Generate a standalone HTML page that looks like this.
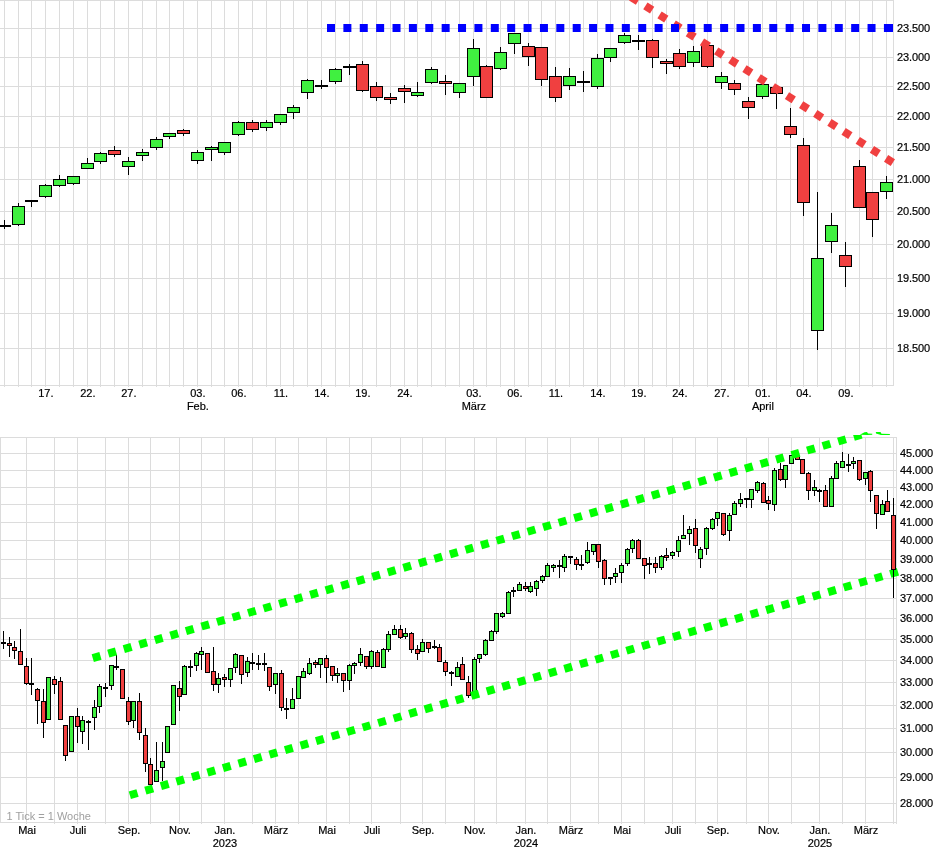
<!DOCTYPE html>
<html><head><meta charset="utf-8"><title>Chart</title>
<style>html,body{margin:0;padding:0;background:#fff;}svg{display:block;}</style>
</head><body><svg width="941" height="856" viewBox="0 0 941 856"><path d="M0 0.5H894M0 385.5H894M0 348.5H894M0 313.5H894M0 278.5H894M0 244.5H894M0 211.5H894M0 179.5H894M0 147.5H894M0 116.5H894M0 86.5H894M0 57.5H894M0 28.5H894M4.5 0V387M18.5 0V387M31.5 0V387M45.5 0V387M59.5 0V387M73.5 0V387M87.5 0V387M100.5 0V387M114.5 0V387M128.5 0V387M142.5 0V387M156.5 0V387M169.5 0V387M183.5 0V387M197.5 0V387M211.5 0V387M224.5 0V387M238.5 0V387M252.5 0V387M266.5 0V387M280.5 0V387M293.5 0V387M307.5 0V387M321.5 0V387M335.5 0V387M349.5 0V387M362.5 0V387M376.5 0V387M390.5 0V387M404.5 0V387M417.5 0V387M431.5 0V387M445.5 0V387M459.5 0V387M473.5 0V387M486.5 0V387M500.5 0V387M514.5 0V387M528.5 0V387M541.5 0V387M555.5 0V387M569.5 0V387M583.5 0V387M597.5 0V387M610.5 0V387M624.5 0V387M638.5 0V387M652.5 0V387M666.5 0V387M679.5 0V387M693.5 0V387M707.5 0V387M721.5 0V387M734.5 0V387M748.5 0V387M762.5 0V387M776.5 0V387M790.5 0V387M803.5 0V387M817.5 0V387M831.5 0V387M845.5 0V387M859.5 0V387M872.5 0V387M886.5 0V387M893.5 0V386M0 803.5H897M0 777.5H897M0 752.5H897M0 728.5H897M0 705.5H897M0 682.5H897M0 660.5H897M0 639.5H897M0 618.5H897M0 598.5H897M0 578.5H897M0 559.5H897M0 540.5H897M0 522.5H897M0 504.5H897M0 487.5H897M0 470.5H897M0 453.5H897M0 437.5H897M0 822.5H897M0.5 437V823M26.5 437V824M54.5 437V824M77.5 437V824M105.5 437V824M128.5 437V824M150.5 437V824M179.5 437V824M201.5 437V824M224.5 437V824M252.5 437V824M275.5 437V824M298.5 437V824M326.5 437V824M349.5 437V824M371.5 437V824M400.5 437V824M422.5 437V824M445.5 437V824M474.5 437V824M496.5 437V824M525.5 437V824M547.5 437V824M570.5 437V824M598.5 437V824M621.5 437V824M644.5 437V824M672.5 437V824M695.5 437V824M717.5 437V824M746.5 437V824M768.5 437V824M791.5 437V824M819.5 437V824M842.5 437V824M865.5 437V824M893.5 437V824M896.5 437V824" stroke="#dcdcdc" stroke-width="1" fill="none" shape-rendering="crispEdges"/><g shape-rendering="crispEdges"><rect x="4" y="220" width="1" height="9" fill="#000"/><rect x="-2" y="225" width="13" height="2" fill="#000"/><rect x="18" y="203" width="1" height="23" fill="#000"/><rect x="12" y="206" width="13" height="19" fill="#000"/><rect x="13" y="207" width="11" height="17" fill="#40f040"/><rect x="31" y="200" width="1" height="7" fill="#000"/><rect x="25" y="200" width="13" height="2" fill="#000"/><rect x="45" y="184" width="1" height="14" fill="#000"/><rect x="39" y="185" width="13" height="12" fill="#000"/><rect x="40" y="186" width="11" height="10" fill="#40f040"/><rect x="59" y="175" width="1" height="12" fill="#000"/><rect x="53" y="179" width="13" height="7" fill="#000"/><rect x="54" y="180" width="11" height="5" fill="#40f040"/><rect x="73" y="176" width="1" height="9" fill="#000"/><rect x="67" y="176" width="13" height="8" fill="#000"/><rect x="68" y="177" width="11" height="6" fill="#40f040"/><rect x="87" y="158" width="1" height="11" fill="#000"/><rect x="81" y="163" width="13" height="6" fill="#000"/><rect x="82" y="164" width="11" height="4" fill="#40f040"/><rect x="100" y="152" width="1" height="12" fill="#000"/><rect x="94" y="153" width="13" height="9" fill="#000"/><rect x="95" y="154" width="11" height="7" fill="#40f040"/><rect x="114" y="146" width="1" height="11" fill="#000"/><rect x="108" y="150" width="13" height="5" fill="#000"/><rect x="109" y="151" width="11" height="3" fill="#f04040"/><rect x="128" y="157" width="1" height="18" fill="#000"/><rect x="122" y="161" width="13" height="6" fill="#000"/><rect x="123" y="162" width="11" height="4" fill="#40f040"/><rect x="142" y="149" width="1" height="12" fill="#000"/><rect x="136" y="152" width="13" height="4" fill="#000"/><rect x="137" y="153" width="11" height="2" fill="#40f040"/><rect x="156" y="137" width="1" height="13" fill="#000"/><rect x="150" y="139" width="13" height="9" fill="#000"/><rect x="151" y="140" width="11" height="7" fill="#40f040"/><rect x="169" y="133" width="1" height="6" fill="#000"/><rect x="163" y="133" width="13" height="4" fill="#000"/><rect x="164" y="134" width="11" height="2" fill="#40f040"/><rect x="183" y="129" width="1" height="7" fill="#000"/><rect x="177" y="130" width="13" height="4" fill="#000"/><rect x="178" y="131" width="11" height="2" fill="#f04040"/><rect x="197" y="150" width="1" height="14" fill="#000"/><rect x="191" y="152" width="13" height="9" fill="#000"/><rect x="192" y="153" width="11" height="7" fill="#40f040"/><rect x="211" y="146" width="1" height="15" fill="#000"/><rect x="205" y="147" width="13" height="3" fill="#000"/><rect x="206" y="148" width="11" height="1" fill="#40f040"/><rect x="224" y="142" width="1" height="13" fill="#000"/><rect x="218" y="142" width="13" height="11" fill="#000"/><rect x="219" y="143" width="11" height="9" fill="#40f040"/><rect x="238" y="121" width="1" height="15" fill="#000"/><rect x="232" y="122" width="13" height="13" fill="#000"/><rect x="233" y="123" width="11" height="11" fill="#40f040"/><rect x="252" y="120" width="1" height="12" fill="#000"/><rect x="246" y="122" width="13" height="8" fill="#000"/><rect x="247" y="123" width="11" height="6" fill="#f04040"/><rect x="266" y="120" width="1" height="11" fill="#000"/><rect x="260" y="122" width="13" height="6" fill="#000"/><rect x="261" y="123" width="11" height="4" fill="#40f040"/><rect x="280" y="114" width="1" height="11" fill="#000"/><rect x="274" y="114" width="13" height="9" fill="#000"/><rect x="275" y="115" width="11" height="7" fill="#40f040"/><rect x="293" y="105" width="1" height="14" fill="#000"/><rect x="287" y="107" width="13" height="6" fill="#000"/><rect x="288" y="108" width="11" height="4" fill="#40f040"/><rect x="307" y="79" width="1" height="20" fill="#000"/><rect x="301" y="80" width="13" height="13" fill="#000"/><rect x="302" y="81" width="11" height="11" fill="#40f040"/><rect x="321" y="80" width="1" height="9" fill="#000"/><rect x="315" y="85" width="13" height="2" fill="#000"/><rect x="335" y="68" width="1" height="16" fill="#000"/><rect x="329" y="69" width="13" height="13" fill="#000"/><rect x="330" y="70" width="11" height="11" fill="#40f040"/><rect x="349" y="64" width="1" height="11" fill="#000"/><rect x="343" y="66" width="13" height="2" fill="#000"/><rect x="362" y="61" width="1" height="31" fill="#000"/><rect x="356" y="64" width="13" height="27" fill="#000"/><rect x="357" y="65" width="11" height="25" fill="#f04040"/><rect x="376" y="82" width="1" height="19" fill="#000"/><rect x="370" y="86" width="13" height="12" fill="#000"/><rect x="371" y="87" width="11" height="10" fill="#f04040"/><rect x="390" y="93" width="1" height="11" fill="#000"/><rect x="384" y="97" width="13" height="3" fill="#000"/><rect x="385" y="98" width="11" height="1" fill="#f04040"/><rect x="404" y="85" width="1" height="18" fill="#000"/><rect x="398" y="88" width="13" height="4" fill="#000"/><rect x="399" y="89" width="11" height="2" fill="#f04040"/><rect x="417" y="82" width="1" height="15" fill="#000"/><rect x="411" y="92" width="13" height="4" fill="#000"/><rect x="412" y="93" width="11" height="2" fill="#40f040"/><rect x="431" y="67" width="1" height="17" fill="#000"/><rect x="425" y="69" width="13" height="14" fill="#000"/><rect x="426" y="70" width="11" height="12" fill="#40f040"/><rect x="445" y="75" width="1" height="20" fill="#000"/><rect x="439" y="81" width="13" height="3" fill="#000"/><rect x="440" y="82" width="11" height="1" fill="#f04040"/><rect x="459" y="83" width="1" height="15" fill="#000"/><rect x="453" y="83" width="13" height="10" fill="#000"/><rect x="454" y="84" width="11" height="8" fill="#40f040"/><rect x="473" y="39" width="1" height="47" fill="#000"/><rect x="467" y="48" width="13" height="29" fill="#000"/><rect x="468" y="49" width="11" height="27" fill="#40f040"/><rect x="486" y="65" width="1" height="33" fill="#000"/><rect x="480" y="66" width="13" height="32" fill="#000"/><rect x="481" y="67" width="11" height="30" fill="#f04040"/><rect x="500" y="47" width="1" height="23" fill="#000"/><rect x="494" y="52" width="13" height="17" fill="#000"/><rect x="495" y="53" width="11" height="15" fill="#40f040"/><rect x="514" y="33" width="1" height="21" fill="#000"/><rect x="508" y="33" width="13" height="11" fill="#000"/><rect x="509" y="34" width="11" height="9" fill="#40f040"/><rect x="528" y="43" width="1" height="23" fill="#000"/><rect x="522" y="46" width="13" height="11" fill="#000"/><rect x="523" y="47" width="11" height="9" fill="#f04040"/><rect x="541" y="48" width="1" height="38" fill="#000"/><rect x="535" y="47" width="13" height="33" fill="#000"/><rect x="536" y="48" width="11" height="31" fill="#f04040"/><rect x="555" y="67" width="1" height="35" fill="#000"/><rect x="549" y="76" width="13" height="22" fill="#000"/><rect x="550" y="77" width="11" height="20" fill="#f04040"/><rect x="569" y="68" width="1" height="22" fill="#000"/><rect x="563" y="76" width="13" height="10" fill="#000"/><rect x="564" y="77" width="11" height="8" fill="#40f040"/><rect x="583" y="71" width="1" height="21" fill="#000"/><rect x="577" y="81" width="13" height="2" fill="#000"/><rect x="597" y="54" width="1" height="35" fill="#000"/><rect x="591" y="58" width="13" height="29" fill="#000"/><rect x="592" y="59" width="11" height="27" fill="#40f040"/><rect x="610" y="49" width="1" height="13" fill="#000"/><rect x="604" y="48" width="13" height="10" fill="#000"/><rect x="605" y="49" width="11" height="8" fill="#40f040"/><rect x="624" y="33" width="1" height="11" fill="#000"/><rect x="618" y="35" width="13" height="8" fill="#000"/><rect x="619" y="36" width="11" height="6" fill="#40f040"/><rect x="638" y="35" width="1" height="15" fill="#000"/><rect x="632" y="40" width="13" height="2" fill="#000"/><rect x="652" y="39" width="1" height="29" fill="#000"/><rect x="646" y="40" width="13" height="18" fill="#000"/><rect x="647" y="41" width="11" height="16" fill="#f04040"/><rect x="666" y="59" width="1" height="15" fill="#000"/><rect x="660" y="61" width="13" height="3" fill="#000"/><rect x="661" y="62" width="11" height="1" fill="#f04040"/><rect x="679" y="49" width="1" height="20" fill="#000"/><rect x="673" y="53" width="13" height="14" fill="#000"/><rect x="674" y="54" width="11" height="12" fill="#f04040"/><rect x="693" y="46" width="1" height="21" fill="#000"/><rect x="687" y="51" width="13" height="12" fill="#000"/><rect x="688" y="52" width="11" height="10" fill="#40f040"/><rect x="707" y="44" width="1" height="24" fill="#000"/><rect x="701" y="45" width="13" height="22" fill="#000"/><rect x="702" y="46" width="11" height="20" fill="#f04040"/><rect x="721" y="72" width="1" height="17" fill="#000"/><rect x="715" y="76" width="13" height="7" fill="#000"/><rect x="716" y="77" width="11" height="5" fill="#40f040"/><rect x="734" y="80" width="1" height="15" fill="#000"/><rect x="728" y="83" width="13" height="7" fill="#000"/><rect x="729" y="84" width="11" height="5" fill="#f04040"/><rect x="748" y="97" width="1" height="22" fill="#000"/><rect x="742" y="101" width="13" height="7" fill="#000"/><rect x="743" y="102" width="11" height="5" fill="#f04040"/><rect x="762" y="84" width="1" height="15" fill="#000"/><rect x="756" y="84" width="13" height="13" fill="#000"/><rect x="757" y="85" width="11" height="11" fill="#40f040"/><rect x="776" y="85" width="1" height="24" fill="#000"/><rect x="770" y="87" width="13" height="7" fill="#000"/><rect x="771" y="88" width="11" height="5" fill="#f04040"/><rect x="790" y="108" width="1" height="30" fill="#000"/><rect x="784" y="126" width="13" height="9" fill="#000"/><rect x="785" y="127" width="11" height="7" fill="#f04040"/><rect x="803" y="138" width="1" height="78" fill="#000"/><rect x="797" y="145" width="13" height="58" fill="#000"/><rect x="798" y="146" width="11" height="56" fill="#f04040"/><rect x="817" y="192" width="1" height="158" fill="#000"/><rect x="811" y="258" width="13" height="73" fill="#000"/><rect x="812" y="259" width="11" height="71" fill="#40f040"/><rect x="831" y="213" width="1" height="40" fill="#000"/><rect x="825" y="225" width="13" height="17" fill="#000"/><rect x="826" y="226" width="11" height="15" fill="#40f040"/><rect x="845" y="242" width="1" height="45" fill="#000"/><rect x="839" y="255" width="13" height="12" fill="#000"/><rect x="840" y="256" width="11" height="10" fill="#f04040"/><rect x="859" y="160" width="1" height="47" fill="#000"/><rect x="853" y="166" width="13" height="42" fill="#000"/><rect x="854" y="167" width="11" height="40" fill="#f04040"/><rect x="872" y="192" width="1" height="45" fill="#000"/><rect x="866" y="192" width="13" height="28" fill="#000"/><rect x="867" y="193" width="11" height="26" fill="#f04040"/><rect x="886" y="176" width="1" height="23" fill="#000"/><rect x="880" y="182" width="13" height="10" fill="#000"/><rect x="881" y="183" width="11" height="8" fill="#40f040"/><rect x="3" y="631" width="1" height="18" fill="#000"/><rect x="1" y="642" width="5" height="2" fill="#000"/><rect x="9" y="637" width="1" height="20" fill="#000"/><rect x="7" y="643" width="5" height="3" fill="#000"/><rect x="8" y="644" width="3" height="1" fill="#f04040"/><rect x="14" y="641" width="1" height="18" fill="#000"/><rect x="12" y="647" width="5" height="4" fill="#000"/><rect x="13" y="648" width="3" height="2" fill="#f04040"/><rect x="20" y="629" width="1" height="36" fill="#000"/><rect x="18" y="651" width="5" height="14" fill="#000"/><rect x="19" y="652" width="3" height="12" fill="#f04040"/><rect x="26" y="658" width="1" height="27" fill="#000"/><rect x="24" y="666" width="5" height="18" fill="#000"/><rect x="25" y="667" width="3" height="16" fill="#f04040"/><rect x="31" y="658" width="1" height="37" fill="#000"/><rect x="29" y="683" width="5" height="2" fill="#000"/><rect x="37" y="688" width="1" height="36" fill="#000"/><rect x="35" y="689" width="5" height="12" fill="#000"/><rect x="36" y="690" width="3" height="10" fill="#f04040"/><rect x="43" y="689" width="1" height="49" fill="#000"/><rect x="41" y="701" width="5" height="22" fill="#000"/><rect x="42" y="702" width="3" height="20" fill="#f04040"/><rect x="48" y="677" width="1" height="43" fill="#000"/><rect x="46" y="677" width="5" height="43" fill="#000"/><rect x="47" y="678" width="3" height="41" fill="#40f040"/><rect x="54" y="676" width="1" height="18" fill="#000"/><rect x="52" y="679" width="5" height="6" fill="#000"/><rect x="53" y="680" width="3" height="4" fill="#f04040"/><rect x="60" y="677" width="1" height="43" fill="#000"/><rect x="58" y="681" width="5" height="39" fill="#000"/><rect x="59" y="682" width="3" height="37" fill="#f04040"/><rect x="65" y="725" width="1" height="36" fill="#000"/><rect x="63" y="725" width="5" height="31" fill="#000"/><rect x="64" y="726" width="3" height="29" fill="#f04040"/><rect x="71" y="716" width="1" height="35" fill="#000"/><rect x="69" y="716" width="5" height="36" fill="#000"/><rect x="70" y="717" width="3" height="34" fill="#40f040"/><rect x="77" y="708" width="1" height="35" fill="#000"/><rect x="75" y="716" width="5" height="11" fill="#000"/><rect x="76" y="717" width="3" height="9" fill="#f04040"/><rect x="82" y="716" width="1" height="28" fill="#000"/><rect x="80" y="720" width="5" height="12" fill="#000"/><rect x="81" y="721" width="3" height="10" fill="#40f040"/><rect x="88" y="720" width="1" height="30" fill="#000"/><rect x="86" y="721" width="5" height="2" fill="#000"/><rect x="94" y="700" width="1" height="30" fill="#000"/><rect x="92" y="707" width="5" height="11" fill="#000"/><rect x="93" y="708" width="3" height="9" fill="#40f040"/><rect x="99" y="684" width="1" height="29" fill="#000"/><rect x="97" y="686" width="5" height="21" fill="#000"/><rect x="98" y="687" width="3" height="19" fill="#40f040"/><rect x="105" y="683" width="1" height="14" fill="#000"/><rect x="103" y="687" width="5" height="2" fill="#000"/><rect x="111" y="666" width="1" height="24" fill="#000"/><rect x="109" y="665" width="5" height="21" fill="#000"/><rect x="110" y="666" width="3" height="19" fill="#40f040"/><rect x="116" y="655" width="1" height="15" fill="#000"/><rect x="114" y="666" width="5" height="2" fill="#000"/><rect x="122" y="670" width="1" height="28" fill="#000"/><rect x="120" y="669" width="5" height="30" fill="#000"/><rect x="121" y="670" width="3" height="28" fill="#f04040"/><rect x="128" y="697" width="1" height="28" fill="#000"/><rect x="126" y="701" width="5" height="21" fill="#000"/><rect x="127" y="702" width="3" height="19" fill="#f04040"/><rect x="133" y="701" width="1" height="27" fill="#000"/><rect x="131" y="701" width="5" height="20" fill="#000"/><rect x="132" y="702" width="3" height="18" fill="#40f040"/><rect x="139" y="693" width="1" height="47" fill="#000"/><rect x="137" y="701" width="5" height="32" fill="#000"/><rect x="138" y="702" width="3" height="30" fill="#f04040"/><rect x="145" y="728" width="1" height="44" fill="#000"/><rect x="143" y="735" width="5" height="29" fill="#000"/><rect x="144" y="736" width="3" height="27" fill="#f04040"/><rect x="150" y="758" width="1" height="27" fill="#000"/><rect x="148" y="764" width="5" height="21" fill="#000"/><rect x="149" y="765" width="3" height="19" fill="#f04040"/><rect x="156" y="742" width="1" height="39" fill="#000"/><rect x="154" y="770" width="5" height="12" fill="#000"/><rect x="155" y="771" width="3" height="10" fill="#40f040"/><rect x="162" y="742" width="1" height="39" fill="#000"/><rect x="160" y="761" width="5" height="7" fill="#000"/><rect x="161" y="762" width="3" height="5" fill="#40f040"/><rect x="167" y="727" width="1" height="25" fill="#000"/><rect x="165" y="726" width="5" height="27" fill="#000"/><rect x="166" y="727" width="3" height="25" fill="#40f040"/><rect x="173" y="685" width="1" height="40" fill="#000"/><rect x="171" y="685" width="5" height="40" fill="#000"/><rect x="172" y="686" width="3" height="38" fill="#40f040"/><rect x="179" y="681" width="1" height="30" fill="#000"/><rect x="177" y="688" width="5" height="9" fill="#000"/><rect x="178" y="689" width="3" height="7" fill="#f04040"/><rect x="184" y="665" width="1" height="29" fill="#000"/><rect x="182" y="666" width="5" height="29" fill="#000"/><rect x="183" y="667" width="3" height="27" fill="#40f040"/><rect x="190" y="660" width="1" height="17" fill="#000"/><rect x="188" y="666" width="5" height="2" fill="#000"/><rect x="196" y="652" width="1" height="19" fill="#000"/><rect x="194" y="653" width="5" height="13" fill="#000"/><rect x="195" y="654" width="3" height="11" fill="#40f040"/><rect x="201" y="647" width="1" height="23" fill="#000"/><rect x="199" y="651" width="5" height="4" fill="#000"/><rect x="200" y="652" width="3" height="2" fill="#40f040"/><rect x="207" y="654" width="1" height="19" fill="#000"/><rect x="205" y="653" width="5" height="20" fill="#000"/><rect x="206" y="654" width="3" height="18" fill="#f04040"/><rect x="213" y="647" width="1" height="44" fill="#000"/><rect x="211" y="671" width="5" height="14" fill="#000"/><rect x="212" y="672" width="3" height="12" fill="#f04040"/><rect x="218" y="673" width="1" height="20" fill="#000"/><rect x="216" y="678" width="5" height="7" fill="#000"/><rect x="217" y="679" width="3" height="5" fill="#40f040"/><rect x="224" y="674" width="1" height="13" fill="#000"/><rect x="222" y="677" width="5" height="3" fill="#000"/><rect x="223" y="678" width="3" height="1" fill="#f04040"/><rect x="230" y="668" width="1" height="19" fill="#000"/><rect x="228" y="668" width="5" height="12" fill="#000"/><rect x="229" y="669" width="3" height="10" fill="#40f040"/><rect x="235" y="653" width="1" height="20" fill="#000"/><rect x="233" y="654" width="5" height="14" fill="#000"/><rect x="234" y="655" width="3" height="12" fill="#40f040"/><rect x="241" y="656" width="1" height="28" fill="#000"/><rect x="239" y="655" width="5" height="20" fill="#000"/><rect x="240" y="656" width="3" height="18" fill="#f04040"/><rect x="247" y="657" width="1" height="20" fill="#000"/><rect x="245" y="661" width="5" height="12" fill="#000"/><rect x="246" y="662" width="3" height="10" fill="#40f040"/><rect x="252" y="653" width="1" height="17" fill="#000"/><rect x="250" y="662" width="5" height="2" fill="#000"/><rect x="258" y="655" width="1" height="15" fill="#000"/><rect x="256" y="663" width="5" height="2" fill="#000"/><rect x="264" y="653" width="1" height="18" fill="#000"/><rect x="262" y="663" width="5" height="2" fill="#000"/><rect x="269" y="668" width="1" height="23" fill="#000"/><rect x="267" y="667" width="5" height="20" fill="#000"/><rect x="268" y="668" width="3" height="18" fill="#f04040"/><rect x="275" y="673" width="1" height="21" fill="#000"/><rect x="273" y="673" width="5" height="12" fill="#000"/><rect x="274" y="674" width="3" height="10" fill="#40f040"/><rect x="281" y="670" width="1" height="41" fill="#000"/><rect x="279" y="673" width="5" height="35" fill="#000"/><rect x="280" y="674" width="3" height="33" fill="#f04040"/><rect x="286" y="698" width="1" height="21" fill="#000"/><rect x="284" y="708" width="5" height="2" fill="#000"/><rect x="292" y="688" width="1" height="21" fill="#000"/><rect x="290" y="699" width="5" height="10" fill="#000"/><rect x="291" y="700" width="3" height="8" fill="#40f040"/><rect x="298" y="676" width="1" height="22" fill="#000"/><rect x="296" y="676" width="5" height="23" fill="#000"/><rect x="297" y="677" width="3" height="21" fill="#40f040"/><rect x="303" y="668" width="1" height="9" fill="#000"/><rect x="301" y="671" width="5" height="7" fill="#000"/><rect x="302" y="672" width="3" height="5" fill="#40f040"/><rect x="309" y="658" width="1" height="17" fill="#000"/><rect x="307" y="663" width="5" height="11" fill="#000"/><rect x="308" y="664" width="3" height="9" fill="#40f040"/><rect x="315" y="660" width="1" height="8" fill="#000"/><rect x="313" y="662" width="5" height="3" fill="#000"/><rect x="314" y="663" width="3" height="1" fill="#f04040"/><rect x="320" y="659" width="1" height="19" fill="#000"/><rect x="318" y="658" width="5" height="7" fill="#000"/><rect x="319" y="659" width="3" height="5" fill="#40f040"/><rect x="326" y="655" width="1" height="28" fill="#000"/><rect x="324" y="658" width="5" height="10" fill="#000"/><rect x="325" y="659" width="3" height="8" fill="#f04040"/><rect x="332" y="667" width="1" height="14" fill="#000"/><rect x="330" y="666" width="5" height="10" fill="#000"/><rect x="331" y="667" width="3" height="8" fill="#f04040"/><rect x="337" y="668" width="1" height="15" fill="#000"/><rect x="335" y="673" width="5" height="3" fill="#000"/><rect x="336" y="674" width="3" height="1" fill="#40f040"/><rect x="343" y="674" width="1" height="18" fill="#000"/><rect x="341" y="673" width="5" height="8" fill="#000"/><rect x="342" y="674" width="3" height="6" fill="#f04040"/><rect x="349" y="664" width="1" height="26" fill="#000"/><rect x="347" y="665" width="5" height="16" fill="#000"/><rect x="348" y="666" width="3" height="14" fill="#40f040"/><rect x="354" y="662" width="1" height="12" fill="#000"/><rect x="352" y="663" width="5" height="3" fill="#000"/><rect x="353" y="664" width="3" height="1" fill="#40f040"/><rect x="360" y="648" width="1" height="18" fill="#000"/><rect x="358" y="654" width="5" height="9" fill="#000"/><rect x="359" y="655" width="3" height="7" fill="#40f040"/><rect x="366" y="656" width="1" height="13" fill="#000"/><rect x="364" y="656" width="5" height="11" fill="#000"/><rect x="365" y="657" width="3" height="9" fill="#f04040"/><rect x="371" y="650" width="1" height="19" fill="#000"/><rect x="369" y="651" width="5" height="16" fill="#000"/><rect x="370" y="652" width="3" height="14" fill="#40f040"/><rect x="377" y="650" width="1" height="17" fill="#000"/><rect x="375" y="652" width="5" height="15" fill="#000"/><rect x="376" y="653" width="3" height="13" fill="#f04040"/><rect x="383" y="648" width="1" height="19" fill="#000"/><rect x="381" y="649" width="5" height="19" fill="#000"/><rect x="382" y="650" width="3" height="17" fill="#40f040"/><rect x="388" y="631" width="1" height="21" fill="#000"/><rect x="386" y="634" width="5" height="16" fill="#000"/><rect x="387" y="635" width="3" height="14" fill="#40f040"/><rect x="394" y="625" width="1" height="10" fill="#000"/><rect x="392" y="629" width="5" height="6" fill="#000"/><rect x="393" y="630" width="3" height="4" fill="#40f040"/><rect x="400" y="625" width="1" height="14" fill="#000"/><rect x="398" y="629" width="5" height="9" fill="#000"/><rect x="399" y="630" width="3" height="7" fill="#f04040"/><rect x="405" y="628" width="1" height="11" fill="#000"/><rect x="403" y="633" width="5" height="4" fill="#000"/><rect x="404" y="634" width="3" height="2" fill="#40f040"/><rect x="411" y="632" width="1" height="21" fill="#000"/><rect x="409" y="633" width="5" height="17" fill="#000"/><rect x="410" y="634" width="3" height="15" fill="#f04040"/><rect x="417" y="645" width="1" height="15" fill="#000"/><rect x="415" y="649" width="5" height="5" fill="#000"/><rect x="416" y="650" width="3" height="3" fill="#f04040"/><rect x="422" y="639" width="1" height="12" fill="#000"/><rect x="420" y="642" width="5" height="10" fill="#000"/><rect x="421" y="643" width="3" height="8" fill="#40f040"/><rect x="428" y="642" width="1" height="11" fill="#000"/><rect x="426" y="642" width="5" height="7" fill="#000"/><rect x="427" y="643" width="3" height="5" fill="#f04040"/><rect x="434" y="640" width="1" height="9" fill="#000"/><rect x="432" y="646" width="5" height="2" fill="#000"/><rect x="439" y="644" width="1" height="17" fill="#000"/><rect x="437" y="647" width="5" height="15" fill="#000"/><rect x="438" y="648" width="3" height="13" fill="#f04040"/><rect x="445" y="660" width="1" height="16" fill="#000"/><rect x="443" y="662" width="5" height="10" fill="#000"/><rect x="444" y="663" width="3" height="8" fill="#f04040"/><rect x="451" y="671" width="1" height="15" fill="#000"/><rect x="449" y="672" width="5" height="2" fill="#000"/><rect x="457" y="662" width="1" height="14" fill="#000"/><rect x="455" y="667" width="5" height="10" fill="#000"/><rect x="456" y="668" width="3" height="8" fill="#40f040"/><rect x="462" y="657" width="1" height="22" fill="#000"/><rect x="460" y="664" width="5" height="16" fill="#000"/><rect x="461" y="665" width="3" height="14" fill="#f04040"/><rect x="468" y="676" width="1" height="22" fill="#000"/><rect x="466" y="682" width="5" height="14" fill="#000"/><rect x="467" y="683" width="3" height="12" fill="#f04040"/><rect x="474" y="657" width="1" height="37" fill="#000"/><rect x="472" y="659" width="5" height="36" fill="#000"/><rect x="473" y="660" width="3" height="34" fill="#40f040"/><rect x="479" y="655" width="1" height="8" fill="#000"/><rect x="477" y="654" width="5" height="5" fill="#000"/><rect x="478" y="655" width="3" height="3" fill="#40f040"/><rect x="485" y="639" width="1" height="17" fill="#000"/><rect x="483" y="640" width="5" height="15" fill="#000"/><rect x="484" y="641" width="3" height="13" fill="#40f040"/><rect x="491" y="630" width="1" height="10" fill="#000"/><rect x="489" y="631" width="5" height="10" fill="#000"/><rect x="490" y="632" width="3" height="8" fill="#40f040"/><rect x="496" y="613" width="1" height="21" fill="#000"/><rect x="494" y="613" width="5" height="19" fill="#000"/><rect x="495" y="614" width="3" height="17" fill="#40f040"/><rect x="502" y="612" width="1" height="6" fill="#000"/><rect x="500" y="613" width="5" height="4" fill="#000"/><rect x="501" y="614" width="3" height="2" fill="#40f040"/><rect x="508" y="591" width="1" height="22" fill="#000"/><rect x="506" y="592" width="5" height="22" fill="#000"/><rect x="507" y="593" width="3" height="20" fill="#40f040"/><rect x="513" y="587" width="1" height="10" fill="#000"/><rect x="511" y="590" width="5" height="2" fill="#000"/><rect x="519" y="582" width="1" height="9" fill="#000"/><rect x="517" y="584" width="5" height="7" fill="#000"/><rect x="518" y="585" width="3" height="5" fill="#40f040"/><rect x="525" y="582" width="1" height="9" fill="#000"/><rect x="523" y="586" width="5" height="3" fill="#000"/><rect x="524" y="587" width="3" height="1" fill="#f04040"/><rect x="530" y="582" width="1" height="11" fill="#000"/><rect x="528" y="586" width="5" height="6" fill="#000"/><rect x="529" y="587" width="3" height="4" fill="#40f040"/><rect x="536" y="580" width="1" height="16" fill="#000"/><rect x="534" y="581" width="5" height="8" fill="#000"/><rect x="535" y="582" width="3" height="6" fill="#40f040"/><rect x="542" y="575" width="1" height="8" fill="#000"/><rect x="540" y="576" width="5" height="5" fill="#000"/><rect x="541" y="577" width="3" height="3" fill="#40f040"/><rect x="547" y="563" width="1" height="14" fill="#000"/><rect x="545" y="565" width="5" height="12" fill="#000"/><rect x="546" y="566" width="3" height="10" fill="#40f040"/><rect x="553" y="564" width="1" height="8" fill="#000"/><rect x="551" y="565" width="5" height="3" fill="#000"/><rect x="552" y="566" width="3" height="1" fill="#40f040"/><rect x="559" y="560" width="1" height="18" fill="#000"/><rect x="557" y="565" width="5" height="2" fill="#000"/><rect x="564" y="554" width="1" height="18" fill="#000"/><rect x="562" y="556" width="5" height="12" fill="#000"/><rect x="563" y="557" width="3" height="10" fill="#40f040"/><rect x="570" y="556" width="1" height="8" fill="#000"/><rect x="568" y="556" width="5" height="2" fill="#000"/><rect x="576" y="557" width="1" height="13" fill="#000"/><rect x="574" y="559" width="5" height="6" fill="#000"/><rect x="575" y="560" width="3" height="4" fill="#f04040"/><rect x="581" y="555" width="1" height="15" fill="#000"/><rect x="579" y="564" width="5" height="2" fill="#000"/><rect x="587" y="542" width="1" height="22" fill="#000"/><rect x="585" y="550" width="5" height="13" fill="#000"/><rect x="586" y="551" width="3" height="11" fill="#40f040"/><rect x="593" y="545" width="1" height="10" fill="#000"/><rect x="591" y="544" width="5" height="8" fill="#000"/><rect x="592" y="545" width="3" height="6" fill="#40f040"/><rect x="598" y="545" width="1" height="23" fill="#000"/><rect x="596" y="544" width="5" height="18" fill="#000"/><rect x="597" y="545" width="3" height="16" fill="#f04040"/><rect x="604" y="559" width="1" height="26" fill="#000"/><rect x="602" y="560" width="5" height="19" fill="#000"/><rect x="603" y="561" width="3" height="17" fill="#f04040"/><rect x="610" y="577" width="1" height="8" fill="#000"/><rect x="608" y="577" width="5" height="2" fill="#000"/><rect x="615" y="568" width="1" height="15" fill="#000"/><rect x="613" y="573" width="5" height="4" fill="#000"/><rect x="614" y="574" width="3" height="2" fill="#40f040"/><rect x="621" y="563" width="1" height="20" fill="#000"/><rect x="619" y="565" width="5" height="8" fill="#000"/><rect x="620" y="566" width="3" height="6" fill="#40f040"/><rect x="627" y="548" width="1" height="18" fill="#000"/><rect x="625" y="549" width="5" height="15" fill="#000"/><rect x="626" y="550" width="3" height="13" fill="#40f040"/><rect x="632" y="539" width="1" height="14" fill="#000"/><rect x="630" y="540" width="5" height="9" fill="#000"/><rect x="631" y="541" width="3" height="7" fill="#40f040"/><rect x="638" y="539" width="1" height="20" fill="#000"/><rect x="636" y="540" width="5" height="19" fill="#000"/><rect x="637" y="541" width="3" height="17" fill="#f04040"/><rect x="644" y="559" width="1" height="20" fill="#000"/><rect x="642" y="558" width="5" height="8" fill="#000"/><rect x="643" y="559" width="3" height="6" fill="#f04040"/><rect x="649" y="557" width="1" height="17" fill="#000"/><rect x="647" y="563" width="5" height="2" fill="#000"/><rect x="655" y="557" width="1" height="16" fill="#000"/><rect x="653" y="563" width="5" height="5" fill="#000"/><rect x="654" y="564" width="3" height="3" fill="#f04040"/><rect x="661" y="555" width="1" height="15" fill="#000"/><rect x="659" y="556" width="5" height="12" fill="#000"/><rect x="660" y="557" width="3" height="10" fill="#40f040"/><rect x="666" y="548" width="1" height="13" fill="#000"/><rect x="664" y="555" width="5" height="3" fill="#000"/><rect x="665" y="556" width="3" height="1" fill="#f04040"/><rect x="672" y="551" width="1" height="8" fill="#000"/><rect x="670" y="552" width="5" height="4" fill="#000"/><rect x="671" y="553" width="3" height="2" fill="#40f040"/><rect x="678" y="536" width="1" height="21" fill="#000"/><rect x="676" y="540" width="5" height="12" fill="#000"/><rect x="677" y="541" width="3" height="10" fill="#40f040"/><rect x="683" y="515" width="1" height="23" fill="#000"/><rect x="681" y="535" width="5" height="4" fill="#000"/><rect x="682" y="536" width="3" height="2" fill="#40f040"/><rect x="689" y="526" width="1" height="19" fill="#000"/><rect x="687" y="529" width="5" height="5" fill="#000"/><rect x="688" y="530" width="3" height="3" fill="#40f040"/><rect x="695" y="519" width="1" height="34" fill="#000"/><rect x="693" y="528" width="5" height="18" fill="#000"/><rect x="694" y="529" width="3" height="16" fill="#f04040"/><rect x="700" y="547" width="1" height="21" fill="#000"/><rect x="698" y="549" width="5" height="10" fill="#000"/><rect x="699" y="550" width="3" height="8" fill="#40f040"/><rect x="706" y="527" width="1" height="28" fill="#000"/><rect x="704" y="528" width="5" height="21" fill="#000"/><rect x="705" y="529" width="3" height="19" fill="#40f040"/><rect x="712" y="518" width="1" height="12" fill="#000"/><rect x="710" y="519" width="5" height="10" fill="#000"/><rect x="711" y="520" width="3" height="8" fill="#40f040"/><rect x="717" y="512" width="1" height="14" fill="#000"/><rect x="715" y="512" width="5" height="7" fill="#000"/><rect x="716" y="513" width="3" height="5" fill="#40f040"/><rect x="723" y="514" width="1" height="22" fill="#000"/><rect x="721" y="513" width="5" height="22" fill="#000"/><rect x="722" y="514" width="3" height="20" fill="#f04040"/><rect x="729" y="513" width="1" height="28" fill="#000"/><rect x="727" y="515" width="5" height="16" fill="#000"/><rect x="728" y="516" width="3" height="14" fill="#40f040"/><rect x="734" y="501" width="1" height="14" fill="#000"/><rect x="732" y="503" width="5" height="12" fill="#000"/><rect x="733" y="504" width="3" height="10" fill="#40f040"/><rect x="740" y="493" width="1" height="14" fill="#000"/><rect x="738" y="499" width="5" height="5" fill="#000"/><rect x="739" y="500" width="3" height="3" fill="#40f040"/><rect x="746" y="498" width="1" height="10" fill="#000"/><rect x="744" y="498" width="5" height="2" fill="#000"/><rect x="751" y="490" width="1" height="18" fill="#000"/><rect x="749" y="489" width="5" height="11" fill="#000"/><rect x="750" y="490" width="3" height="9" fill="#40f040"/><rect x="757" y="481" width="1" height="12" fill="#000"/><rect x="755" y="482" width="5" height="9" fill="#000"/><rect x="756" y="483" width="3" height="7" fill="#40f040"/><rect x="763" y="482" width="1" height="21" fill="#000"/><rect x="761" y="483" width="5" height="20" fill="#000"/><rect x="762" y="484" width="3" height="18" fill="#f04040"/><rect x="768" y="496" width="1" height="14" fill="#000"/><rect x="766" y="500" width="5" height="4" fill="#000"/><rect x="767" y="501" width="3" height="2" fill="#f04040"/><rect x="774" y="468" width="1" height="43" fill="#000"/><rect x="772" y="470" width="5" height="35" fill="#000"/><rect x="773" y="471" width="3" height="33" fill="#40f040"/><rect x="780" y="463" width="1" height="18" fill="#000"/><rect x="778" y="469" width="5" height="11" fill="#000"/><rect x="779" y="470" width="3" height="9" fill="#f04040"/><rect x="785" y="466" width="1" height="22" fill="#000"/><rect x="783" y="465" width="5" height="15" fill="#000"/><rect x="784" y="466" width="3" height="13" fill="#40f040"/><rect x="791" y="455" width="1" height="9" fill="#000"/><rect x="789" y="455" width="5" height="9" fill="#000"/><rect x="790" y="456" width="3" height="7" fill="#40f040"/><rect x="797" y="456" width="1" height="4" fill="#000"/><rect x="795" y="455" width="5" height="5" fill="#000"/><rect x="796" y="456" width="3" height="3" fill="#f04040"/><rect x="802" y="459" width="1" height="15" fill="#000"/><rect x="800" y="459" width="5" height="15" fill="#000"/><rect x="801" y="460" width="3" height="13" fill="#f04040"/><rect x="808" y="472" width="1" height="28" fill="#000"/><rect x="806" y="473" width="5" height="18" fill="#000"/><rect x="807" y="474" width="3" height="16" fill="#f04040"/><rect x="814" y="480" width="1" height="16" fill="#000"/><rect x="812" y="487" width="5" height="4" fill="#000"/><rect x="813" y="488" width="3" height="2" fill="#40f040"/><rect x="819" y="489" width="1" height="13" fill="#000"/><rect x="817" y="490" width="5" height="2" fill="#000"/><rect x="825" y="485" width="1" height="22" fill="#000"/><rect x="823" y="490" width="5" height="17" fill="#000"/><rect x="824" y="491" width="3" height="15" fill="#f04040"/><rect x="831" y="476" width="1" height="31" fill="#000"/><rect x="829" y="478" width="5" height="29" fill="#000"/><rect x="830" y="479" width="3" height="27" fill="#40f040"/><rect x="836" y="461" width="1" height="17" fill="#000"/><rect x="834" y="463" width="5" height="16" fill="#000"/><rect x="835" y="464" width="3" height="14" fill="#40f040"/><rect x="842" y="452" width="1" height="16" fill="#000"/><rect x="840" y="461" width="5" height="7" fill="#000"/><rect x="841" y="462" width="3" height="5" fill="#40f040"/><rect x="848" y="454" width="1" height="18" fill="#000"/><rect x="846" y="464" width="5" height="2" fill="#000"/><rect x="853" y="457" width="1" height="12" fill="#000"/><rect x="851" y="461" width="5" height="3" fill="#000"/><rect x="852" y="462" width="3" height="1" fill="#40f040"/><rect x="859" y="460" width="1" height="21" fill="#000"/><rect x="857" y="460" width="5" height="20" fill="#000"/><rect x="858" y="461" width="3" height="18" fill="#f04040"/><rect x="865" y="473" width="1" height="12" fill="#000"/><rect x="863" y="472" width="5" height="7" fill="#000"/><rect x="864" y="473" width="3" height="5" fill="#40f040"/><rect x="870" y="470" width="1" height="32" fill="#000"/><rect x="868" y="471" width="5" height="20" fill="#000"/><rect x="869" y="472" width="3" height="18" fill="#f04040"/><rect x="876" y="496" width="1" height="33" fill="#000"/><rect x="874" y="495" width="5" height="19" fill="#000"/><rect x="875" y="496" width="3" height="17" fill="#f04040"/><rect x="882" y="500" width="1" height="14" fill="#000"/><rect x="880" y="504" width="5" height="11" fill="#000"/><rect x="881" y="505" width="3" height="9" fill="#40f040"/><rect x="887" y="490" width="1" height="21" fill="#000"/><rect x="885" y="501" width="5" height="11" fill="#000"/><rect x="886" y="502" width="3" height="9" fill="#f04040"/></g><defs><clipPath id="ctop"><rect x="0" y="0" width="941" height="400"/></clipPath><clipPath id="cbot"><rect x="0" y="435" width="941" height="421"/></clipPath></defs><g fill="#f04040" clip-path="url(#ctop)"><rect x="-4.0" y="-4.0" width="8" height="8" transform="translate(634.59 -0.86) rotate(32.32)"/><rect x="-4.0" y="-4.0" width="8" height="8" transform="translate(648.75 8.10) rotate(32.32)"/><rect x="-4.0" y="-4.0" width="8" height="8" transform="translate(662.91 17.06) rotate(32.32)"/><rect x="-4.0" y="-4.0" width="8" height="8" transform="translate(677.07 26.02) rotate(32.32)"/><rect x="-4.0" y="-4.0" width="8" height="8" transform="translate(691.23 34.98) rotate(32.32)"/><rect x="-4.0" y="-4.0" width="8" height="8" transform="translate(705.39 43.94) rotate(32.32)"/><rect x="-4.0" y="-4.0" width="8" height="8" transform="translate(719.55 52.90) rotate(32.32)"/><rect x="-4.0" y="-4.0" width="8" height="8" transform="translate(733.71 61.86) rotate(32.32)"/><rect x="-4.0" y="-4.0" width="8" height="8" transform="translate(747.87 70.82) rotate(32.32)"/><rect x="-4.0" y="-4.0" width="8" height="8" transform="translate(762.03 79.78) rotate(32.32)"/><rect x="-4.0" y="-4.0" width="8" height="8" transform="translate(776.19 88.74) rotate(32.32)"/><rect x="-4.0" y="-4.0" width="8" height="8" transform="translate(790.35 97.70) rotate(32.32)"/><rect x="-4.0" y="-4.0" width="8" height="8" transform="translate(804.51 106.66) rotate(32.32)"/><rect x="-4.0" y="-4.0" width="8" height="8" transform="translate(818.67 115.62) rotate(32.32)"/><rect x="-4.0" y="-4.0" width="8" height="8" transform="translate(832.83 124.58) rotate(32.32)"/><rect x="-4.0" y="-4.0" width="8" height="8" transform="translate(846.99 133.54) rotate(32.32)"/><rect x="-4.0" y="-4.0" width="8" height="8" transform="translate(861.15 142.50) rotate(32.32)"/><rect x="-4.0" y="-4.0" width="8" height="8" transform="translate(875.31 151.46) rotate(32.32)"/><rect x="-4.0" y="-4.0" width="8" height="8" transform="translate(889.47 160.42) rotate(32.32)"/></g><g fill="#0000ff"><rect x="327.00" y="24" width="8.00" height="8"/><rect x="343.38" y="24" width="8.00" height="8"/><rect x="359.76" y="24" width="8.00" height="8"/><rect x="376.14" y="24" width="8.00" height="8"/><rect x="392.52" y="24" width="8.00" height="8"/><rect x="408.90" y="24" width="8.00" height="8"/><rect x="425.28" y="24" width="8.00" height="8"/><rect x="441.66" y="24" width="8.00" height="8"/><rect x="458.04" y="24" width="8.00" height="8"/><rect x="474.42" y="24" width="8.00" height="8"/><rect x="490.80" y="24" width="8.00" height="8"/><rect x="507.18" y="24" width="8.00" height="8"/><rect x="523.56" y="24" width="8.00" height="8"/><rect x="539.94" y="24" width="8.00" height="8"/><rect x="556.32" y="24" width="8.00" height="8"/><rect x="572.70" y="24" width="8.00" height="8"/><rect x="589.08" y="24" width="8.00" height="8"/><rect x="605.46" y="24" width="8.00" height="8"/><rect x="621.84" y="24" width="8.00" height="8"/><rect x="638.22" y="24" width="8.00" height="8"/><rect x="654.60" y="24" width="8.00" height="8"/><rect x="670.98" y="24" width="8.00" height="8"/><rect x="687.36" y="24" width="8.00" height="8"/><rect x="703.74" y="24" width="8.00" height="8"/><rect x="720.12" y="24" width="8.00" height="8"/><rect x="736.50" y="24" width="8.00" height="8"/><rect x="752.88" y="24" width="8.00" height="8"/><rect x="769.26" y="24" width="8.00" height="8"/><rect x="785.64" y="24" width="8.00" height="8"/><rect x="802.02" y="24" width="8.00" height="8"/><rect x="818.40" y="24" width="8.00" height="8"/><rect x="834.78" y="24" width="8.00" height="8"/><rect x="851.16" y="24" width="8.00" height="8"/><rect x="867.54" y="24" width="8.00" height="8"/><rect x="883.92" y="24" width="9.08" height="8"/></g><g fill="#00ff00" clip-path="url(#cbot)"><rect x="-4.0" y="-4.0" width="8" height="8" transform="translate(96.60 657.00) rotate(-16.20)"/><rect x="-4.0" y="-4.0" width="8" height="8" transform="translate(112.13 652.49) rotate(-16.20)"/><rect x="-4.0" y="-4.0" width="8" height="8" transform="translate(127.66 647.97) rotate(-16.20)"/><rect x="-4.0" y="-4.0" width="8" height="8" transform="translate(143.19 643.46) rotate(-16.20)"/><rect x="-4.0" y="-4.0" width="8" height="8" transform="translate(158.72 638.95) rotate(-16.20)"/><rect x="-4.0" y="-4.0" width="8" height="8" transform="translate(174.25 634.43) rotate(-16.20)"/><rect x="-4.0" y="-4.0" width="8" height="8" transform="translate(189.78 629.92) rotate(-16.20)"/><rect x="-4.0" y="-4.0" width="8" height="8" transform="translate(205.31 625.41) rotate(-16.20)"/><rect x="-4.0" y="-4.0" width="8" height="8" transform="translate(220.84 620.90) rotate(-16.20)"/><rect x="-4.0" y="-4.0" width="8" height="8" transform="translate(236.37 616.38) rotate(-16.20)"/><rect x="-4.0" y="-4.0" width="8" height="8" transform="translate(251.90 611.87) rotate(-16.20)"/><rect x="-4.0" y="-4.0" width="8" height="8" transform="translate(267.43 607.36) rotate(-16.20)"/><rect x="-4.0" y="-4.0" width="8" height="8" transform="translate(282.96 602.84) rotate(-16.20)"/><rect x="-4.0" y="-4.0" width="8" height="8" transform="translate(298.49 598.33) rotate(-16.20)"/><rect x="-4.0" y="-4.0" width="8" height="8" transform="translate(314.02 593.82) rotate(-16.20)"/><rect x="-4.0" y="-4.0" width="8" height="8" transform="translate(329.55 589.31) rotate(-16.20)"/><rect x="-4.0" y="-4.0" width="8" height="8" transform="translate(345.08 584.79) rotate(-16.20)"/><rect x="-4.0" y="-4.0" width="8" height="8" transform="translate(360.61 580.28) rotate(-16.20)"/><rect x="-4.0" y="-4.0" width="8" height="8" transform="translate(376.14 575.77) rotate(-16.20)"/><rect x="-4.0" y="-4.0" width="8" height="8" transform="translate(391.67 571.25) rotate(-16.20)"/><rect x="-4.0" y="-4.0" width="8" height="8" transform="translate(407.20 566.74) rotate(-16.20)"/><rect x="-4.0" y="-4.0" width="8" height="8" transform="translate(422.73 562.23) rotate(-16.20)"/><rect x="-4.0" y="-4.0" width="8" height="8" transform="translate(438.26 557.71) rotate(-16.20)"/><rect x="-4.0" y="-4.0" width="8" height="8" transform="translate(453.79 553.20) rotate(-16.20)"/><rect x="-4.0" y="-4.0" width="8" height="8" transform="translate(469.32 548.69) rotate(-16.20)"/><rect x="-4.0" y="-4.0" width="8" height="8" transform="translate(484.85 544.17) rotate(-16.20)"/><rect x="-4.0" y="-4.0" width="8" height="8" transform="translate(500.38 539.66) rotate(-16.20)"/><rect x="-4.0" y="-4.0" width="8" height="8" transform="translate(515.91 535.15) rotate(-16.20)"/><rect x="-4.0" y="-4.0" width="8" height="8" transform="translate(531.44 530.64) rotate(-16.20)"/><rect x="-4.0" y="-4.0" width="8" height="8" transform="translate(546.97 526.12) rotate(-16.20)"/><rect x="-4.0" y="-4.0" width="8" height="8" transform="translate(562.50 521.61) rotate(-16.20)"/><rect x="-4.0" y="-4.0" width="8" height="8" transform="translate(578.03 517.10) rotate(-16.20)"/><rect x="-4.0" y="-4.0" width="8" height="8" transform="translate(593.56 512.58) rotate(-16.20)"/><rect x="-4.0" y="-4.0" width="8" height="8" transform="translate(609.09 508.07) rotate(-16.20)"/><rect x="-4.0" y="-4.0" width="8" height="8" transform="translate(624.62 503.56) rotate(-16.20)"/><rect x="-4.0" y="-4.0" width="8" height="8" transform="translate(640.15 499.05) rotate(-16.20)"/><rect x="-4.0" y="-4.0" width="8" height="8" transform="translate(655.68 494.53) rotate(-16.20)"/><rect x="-4.0" y="-4.0" width="8" height="8" transform="translate(671.21 490.02) rotate(-16.20)"/><rect x="-4.0" y="-4.0" width="8" height="8" transform="translate(686.74 485.51) rotate(-16.20)"/><rect x="-4.0" y="-4.0" width="8" height="8" transform="translate(702.27 480.99) rotate(-16.20)"/><rect x="-4.0" y="-4.0" width="8" height="8" transform="translate(717.80 476.48) rotate(-16.20)"/><rect x="-4.0" y="-4.0" width="8" height="8" transform="translate(733.33 471.97) rotate(-16.20)"/><rect x="-4.0" y="-4.0" width="8" height="8" transform="translate(748.86 467.45) rotate(-16.20)"/><rect x="-4.0" y="-4.0" width="8" height="8" transform="translate(764.39 462.94) rotate(-16.20)"/><rect x="-4.0" y="-4.0" width="8" height="8" transform="translate(779.92 458.43) rotate(-16.20)"/><rect x="-4.0" y="-4.0" width="8" height="8" transform="translate(795.45 453.91) rotate(-16.20)"/><rect x="-4.0" y="-4.0" width="8" height="8" transform="translate(810.98 449.40) rotate(-16.20)"/><rect x="-4.0" y="-4.0" width="8" height="8" transform="translate(826.51 444.89) rotate(-16.20)"/><rect x="-4.0" y="-4.0" width="8" height="8" transform="translate(842.04 440.38) rotate(-16.20)"/><rect x="-4.0" y="-4.0" width="8" height="8" transform="translate(857.57 435.86) rotate(-16.20)"/></g><g fill="#00ff00" clip-path="url(#cbot)"><rect x="-4.0" y="-4.0" width="8" height="8" transform="translate(133.68 794.10) rotate(-16.22)"/><rect x="-4.0" y="-4.0" width="8" height="8" transform="translate(149.20 789.59) rotate(-16.22)"/><rect x="-4.0" y="-4.0" width="8" height="8" transform="translate(164.72 785.07) rotate(-16.22)"/><rect x="-4.0" y="-4.0" width="8" height="8" transform="translate(180.24 780.56) rotate(-16.22)"/><rect x="-4.0" y="-4.0" width="8" height="8" transform="translate(195.76 776.04) rotate(-16.22)"/><rect x="-4.0" y="-4.0" width="8" height="8" transform="translate(211.28 771.52) rotate(-16.22)"/><rect x="-4.0" y="-4.0" width="8" height="8" transform="translate(226.79 767.01) rotate(-16.22)"/><rect x="-4.0" y="-4.0" width="8" height="8" transform="translate(242.31 762.50) rotate(-16.22)"/><rect x="-4.0" y="-4.0" width="8" height="8" transform="translate(257.83 757.98) rotate(-16.22)"/><rect x="-4.0" y="-4.0" width="8" height="8" transform="translate(273.35 753.47) rotate(-16.22)"/><rect x="-4.0" y="-4.0" width="8" height="8" transform="translate(288.87 748.95) rotate(-16.22)"/><rect x="-4.0" y="-4.0" width="8" height="8" transform="translate(304.39 744.44) rotate(-16.22)"/><rect x="-4.0" y="-4.0" width="8" height="8" transform="translate(319.91 739.92) rotate(-16.22)"/><rect x="-4.0" y="-4.0" width="8" height="8" transform="translate(335.43 735.40) rotate(-16.22)"/><rect x="-4.0" y="-4.0" width="8" height="8" transform="translate(350.95 730.89) rotate(-16.22)"/><rect x="-4.0" y="-4.0" width="8" height="8" transform="translate(366.47 726.38) rotate(-16.22)"/><rect x="-4.0" y="-4.0" width="8" height="8" transform="translate(381.98 721.86) rotate(-16.22)"/><rect x="-4.0" y="-4.0" width="8" height="8" transform="translate(397.50 717.35) rotate(-16.22)"/><rect x="-4.0" y="-4.0" width="8" height="8" transform="translate(413.02 712.83) rotate(-16.22)"/><rect x="-4.0" y="-4.0" width="8" height="8" transform="translate(428.54 708.32) rotate(-16.22)"/><rect x="-4.0" y="-4.0" width="8" height="8" transform="translate(444.06 703.80) rotate(-16.22)"/><rect x="-4.0" y="-4.0" width="8" height="8" transform="translate(459.58 699.29) rotate(-16.22)"/><rect x="-4.0" y="-4.0" width="8" height="8" transform="translate(475.10 694.77) rotate(-16.22)"/><rect x="-4.0" y="-4.0" width="8" height="8" transform="translate(490.62 690.25) rotate(-16.22)"/><rect x="-4.0" y="-4.0" width="8" height="8" transform="translate(506.14 685.74) rotate(-16.22)"/><rect x="-4.0" y="-4.0" width="8" height="8" transform="translate(521.65 681.23) rotate(-16.22)"/><rect x="-4.0" y="-4.0" width="8" height="8" transform="translate(537.17 676.71) rotate(-16.22)"/><rect x="-4.0" y="-4.0" width="8" height="8" transform="translate(552.69 672.20) rotate(-16.22)"/><rect x="-4.0" y="-4.0" width="8" height="8" transform="translate(568.21 667.68) rotate(-16.22)"/><rect x="-4.0" y="-4.0" width="8" height="8" transform="translate(583.73 663.16) rotate(-16.22)"/><rect x="-4.0" y="-4.0" width="8" height="8" transform="translate(599.25 658.65) rotate(-16.22)"/><rect x="-4.0" y="-4.0" width="8" height="8" transform="translate(614.77 654.13) rotate(-16.22)"/><rect x="-4.0" y="-4.0" width="8" height="8" transform="translate(630.29 649.62) rotate(-16.22)"/><rect x="-4.0" y="-4.0" width="8" height="8" transform="translate(645.81 645.11) rotate(-16.22)"/><rect x="-4.0" y="-4.0" width="8" height="8" transform="translate(661.33 640.59) rotate(-16.22)"/><rect x="-4.0" y="-4.0" width="8" height="8" transform="translate(676.85 636.08) rotate(-16.22)"/><rect x="-4.0" y="-4.0" width="8" height="8" transform="translate(692.36 631.56) rotate(-16.22)"/><rect x="-4.0" y="-4.0" width="8" height="8" transform="translate(707.88 627.05) rotate(-16.22)"/><rect x="-4.0" y="-4.0" width="8" height="8" transform="translate(723.40 622.53) rotate(-16.22)"/><rect x="-4.0" y="-4.0" width="8" height="8" transform="translate(738.92 618.02) rotate(-16.22)"/><rect x="-4.0" y="-4.0" width="8" height="8" transform="translate(754.44 613.50) rotate(-16.22)"/><rect x="-4.0" y="-4.0" width="8" height="8" transform="translate(769.96 608.99) rotate(-16.22)"/><rect x="-4.0" y="-4.0" width="8" height="8" transform="translate(785.48 604.47) rotate(-16.22)"/><rect x="-4.0" y="-4.0" width="8" height="8" transform="translate(801.00 599.96) rotate(-16.22)"/><rect x="-4.0" y="-4.0" width="8" height="8" transform="translate(816.52 595.44) rotate(-16.22)"/><rect x="-4.0" y="-4.0" width="8" height="8" transform="translate(832.04 590.93) rotate(-16.22)"/><rect x="-4.0" y="-4.0" width="8" height="8" transform="translate(847.55 586.41) rotate(-16.22)"/><rect x="-4.0" y="-4.0" width="8" height="8" transform="translate(863.07 581.89) rotate(-16.22)"/><rect x="-4.0" y="-4.0" width="8" height="8" transform="translate(878.59 577.38) rotate(-16.22)"/><rect x="-4.0" y="-4.0" width="8" height="8" transform="translate(894.11 572.87) rotate(-16.22)"/></g><g fill="#00ff00"><polygon points="859.8,434.8 864.5,432.2 867,432 868,433.6 872.3,433.8 872.2,434.8 867.5,434.9"/><polygon points="875.8,432 880.5,432 881.5,433.8 889.9,434 889.8,434.9 881,434.9 876,433.6"/></g><g shape-rendering="crispEdges"><rect x="893" y="498" width="1" height="100" fill="#000"/><rect x="891" y="515" width="5" height="55" fill="#000"/><rect x="892" y="516" width="3" height="53" fill="#f04040"/></g><g font-family='"Liberation Sans", sans-serif' font-size="11px" stroke="#000" stroke-width="0.2" style="will-change:transform"><text x="897" y="352" text-anchor="start" fill="#000" letter-spacing="-0.1">18.500</text><text x="897" y="317" text-anchor="start" fill="#000" letter-spacing="-0.1">19.000</text><text x="897" y="282" text-anchor="start" fill="#000" letter-spacing="-0.1">19.500</text><text x="897" y="248" text-anchor="start" fill="#000" letter-spacing="-0.1">20.000</text><text x="897" y="215" text-anchor="start" fill="#000" letter-spacing="-0.1">20.500</text><text x="897" y="183" text-anchor="start" fill="#000" letter-spacing="-0.1">21.000</text><text x="897" y="151" text-anchor="start" fill="#000" letter-spacing="-0.1">21.500</text><text x="897" y="120" text-anchor="start" fill="#000" letter-spacing="-0.1">22.000</text><text x="897" y="90" text-anchor="start" fill="#000" letter-spacing="-0.1">22.500</text><text x="897" y="61" text-anchor="start" fill="#000" letter-spacing="-0.1">23.000</text><text x="897" y="32" text-anchor="start" fill="#000" letter-spacing="-0.1">23.500</text><text x="900" y="807" text-anchor="start" fill="#000" letter-spacing="-0.1">28.000</text><text x="900" y="781" text-anchor="start" fill="#000" letter-spacing="-0.1">29.000</text><text x="900" y="756" text-anchor="start" fill="#000" letter-spacing="-0.1">30.000</text><text x="900" y="732" text-anchor="start" fill="#000" letter-spacing="-0.1">31.000</text><text x="900" y="709" text-anchor="start" fill="#000" letter-spacing="-0.1">32.000</text><text x="900" y="686" text-anchor="start" fill="#000" letter-spacing="-0.1">33.000</text><text x="900" y="664" text-anchor="start" fill="#000" letter-spacing="-0.1">34.000</text><text x="900" y="643" text-anchor="start" fill="#000" letter-spacing="-0.1">35.000</text><text x="900" y="622" text-anchor="start" fill="#000" letter-spacing="-0.1">36.000</text><text x="900" y="602" text-anchor="start" fill="#000" letter-spacing="-0.1">37.000</text><text x="900" y="582" text-anchor="start" fill="#000" letter-spacing="-0.1">38.000</text><text x="900" y="563" text-anchor="start" fill="#000" letter-spacing="-0.1">39.000</text><text x="900" y="544" text-anchor="start" fill="#000" letter-spacing="-0.1">40.000</text><text x="900" y="526" text-anchor="start" fill="#000" letter-spacing="-0.1">41.000</text><text x="900" y="508" text-anchor="start" fill="#000" letter-spacing="-0.1">42.000</text><text x="900" y="491" text-anchor="start" fill="#000" letter-spacing="-0.1">43.000</text><text x="900" y="474" text-anchor="start" fill="#000" letter-spacing="-0.1">44.000</text><text x="900" y="457" text-anchor="start" fill="#000" letter-spacing="-0.1">45.000</text><text x="45.9" y="397" text-anchor="middle" fill="#000">17.</text><text x="87.9" y="397" text-anchor="middle" fill="#000">22.</text><text x="128.9" y="397" text-anchor="middle" fill="#000">27.</text><text x="197.9" y="397" text-anchor="middle" fill="#000">03.</text><text x="197.9" y="410" text-anchor="middle" fill="#000">Feb.</text><text x="238.9" y="397" text-anchor="middle" fill="#000">06.</text><text x="280.9" y="397" text-anchor="middle" fill="#000">11.</text><text x="321.9" y="397" text-anchor="middle" fill="#000">14.</text><text x="362.9" y="397" text-anchor="middle" fill="#000">19.</text><text x="404.9" y="397" text-anchor="middle" fill="#000">24.</text><text x="473.9" y="397" text-anchor="middle" fill="#000">03.</text><text x="473.9" y="410" text-anchor="middle" fill="#000">März</text><text x="514.9" y="397" text-anchor="middle" fill="#000">06.</text><text x="555.9" y="397" text-anchor="middle" fill="#000">11.</text><text x="597.9" y="397" text-anchor="middle" fill="#000">14.</text><text x="638.9" y="397" text-anchor="middle" fill="#000">19.</text><text x="679.9" y="397" text-anchor="middle" fill="#000">24.</text><text x="721.9" y="397" text-anchor="middle" fill="#000">27.</text><text x="762.9" y="397" text-anchor="middle" fill="#000">01.</text><text x="762.9" y="410" text-anchor="middle" fill="#000">April</text><text x="803.9" y="397" text-anchor="middle" fill="#000">04.</text><text x="845.9" y="397" text-anchor="middle" fill="#000">09.</text><text x="27.0" y="834" text-anchor="middle" fill="#000">Mai</text><text x="78.0" y="834" text-anchor="middle" fill="#000">Juli</text><text x="129.0" y="834" text-anchor="middle" fill="#000">Sep.</text><text x="180.0" y="834" text-anchor="middle" fill="#000">Nov.</text><text x="225.0" y="834" text-anchor="middle" fill="#000">Jan.</text><text x="225.0" y="847" text-anchor="middle" fill="#000">2023</text><text x="276.0" y="834" text-anchor="middle" fill="#000">März</text><text x="327.0" y="834" text-anchor="middle" fill="#000">Mai</text><text x="372.0" y="834" text-anchor="middle" fill="#000">Juli</text><text x="423.0" y="834" text-anchor="middle" fill="#000">Sep.</text><text x="475.0" y="834" text-anchor="middle" fill="#000">Nov.</text><text x="526.0" y="834" text-anchor="middle" fill="#000">Jan.</text><text x="526.0" y="847" text-anchor="middle" fill="#000">2024</text><text x="571.0" y="834" text-anchor="middle" fill="#000">März</text><text x="622.0" y="834" text-anchor="middle" fill="#000">Mai</text><text x="673.0" y="834" text-anchor="middle" fill="#000">Juli</text><text x="718.0" y="834" text-anchor="middle" fill="#000">Sep.</text><text x="769.0" y="834" text-anchor="middle" fill="#000">Nov.</text><text x="820.0" y="834" text-anchor="middle" fill="#000">Jan.</text><text x="820.0" y="847" text-anchor="middle" fill="#000">2025</text><text x="866.0" y="834" text-anchor="middle" fill="#000">März</text></g><text x="6.5" y="820" font-family='"Liberation Sans", sans-serif' font-size="11px" fill="#a0a0a0">1 Tick = 1 Woche</text></svg></body></html>
